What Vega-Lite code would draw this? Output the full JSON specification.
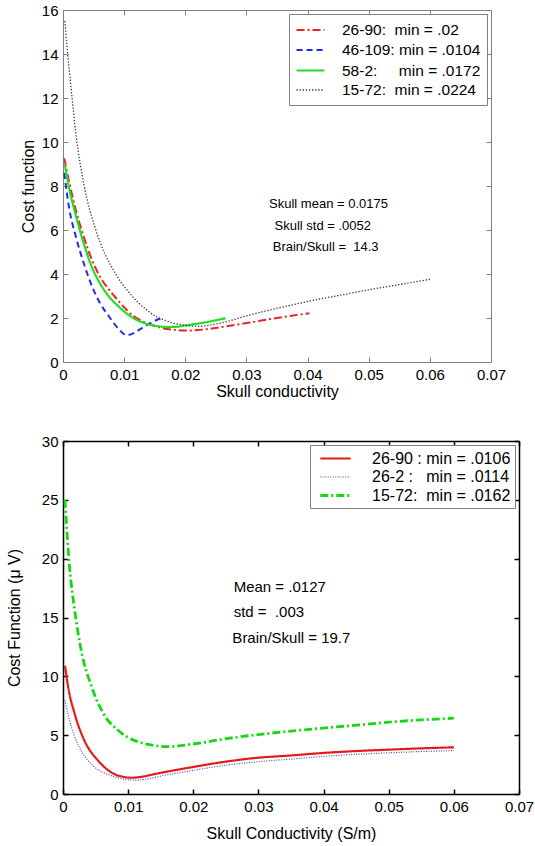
{
  "$schema": "https://vega.github.io/schema/vega-lite/v6.json",
  "background": "white",
  "padding": {"left": 6, "top": 3, "right": 0, "bottom": 5},
  "spacing": 35,
  "config": {
    "font": "Liberation Sans",
    "view": {"stroke": null},
    "axis": {"grid": false, "labelFont": "Liberation Sans", "titleFont": "Liberation Sans", "labelColor": "black", "titleColor": "black", "titleFontWeight": "normal", "tickSize": -5, "labelPadding": 10},
    "legend": {"labelFont": "Liberation Sans"}
  },
  "resolve": {"scale": {"color": "independent", "strokeDash": "independent", "strokeWidth": "independent", "x": "independent", "y": "independent"}},
  "vconcat": [
    {
      "width": 428,
      "height": 352,
      "layer": [
        {
          "data": {"values": [
            {"series": "26-90:\u00a0 min = .02\u00a0\u00a0", "x": 0.0002, "y": 9.26},
            {"series": "26-90:\u00a0 min = .02\u00a0\u00a0", "x": 0.001, "y": 8.2},
            {"series": "26-90:\u00a0 min = .02\u00a0\u00a0", "x": 0.0021, "y": 6.9},
            {"series": "26-90:\u00a0 min = .02\u00a0\u00a0", "x": 0.0035, "y": 5.6},
            {"series": "26-90:\u00a0 min = .02\u00a0\u00a0", "x": 0.0048, "y": 4.6},
            {"series": "26-90:\u00a0 min = .02\u00a0\u00a0", "x": 0.006, "y": 3.9},
            {"series": "26-90:\u00a0 min = .02\u00a0\u00a0", "x": 0.0075, "y": 3.3},
            {"series": "26-90:\u00a0 min = .02\u00a0\u00a0", "x": 0.009, "y": 2.8},
            {"series": "26-90:\u00a0 min = .02\u00a0\u00a0", "x": 0.0103, "y": 2.4},
            {"series": "26-90:\u00a0 min = .02\u00a0\u00a0", "x": 0.0115, "y": 2.1},
            {"series": "26-90:\u00a0 min = .02\u00a0\u00a0", "x": 0.013, "y": 1.85},
            {"series": "26-90:\u00a0 min = .02\u00a0\u00a0", "x": 0.0145, "y": 1.68},
            {"series": "26-90:\u00a0 min = .02\u00a0\u00a0", "x": 0.0157, "y": 1.58},
            {"series": "26-90:\u00a0 min = .02\u00a0\u00a0", "x": 0.018, "y": 1.47},
            {"series": "26-90:\u00a0 min = .02\u00a0\u00a0", "x": 0.02, "y": 1.43},
            {"series": "26-90:\u00a0 min = .02\u00a0\u00a0", "x": 0.022, "y": 1.45},
            {"series": "26-90:\u00a0 min = .02\u00a0\u00a0", "x": 0.025, "y": 1.55},
            {"series": "26-90:\u00a0 min = .02\u00a0\u00a0", "x": 0.03, "y": 1.77},
            {"series": "26-90:\u00a0 min = .02\u00a0\u00a0", "x": 0.035, "y": 2.0},
            {"series": "26-90:\u00a0 min = .02\u00a0\u00a0", "x": 0.0403, "y": 2.22},
            {"series": "46-109: min = .0104\u00a0\u00a0", "x": 0.0002, "y": 8.6},
            {"series": "46-109: min = .0104\u00a0\u00a0", "x": 0.001, "y": 7.0},
            {"series": "46-109: min = .0104\u00a0\u00a0", "x": 0.0021, "y": 5.7},
            {"series": "46-109: min = .0104\u00a0\u00a0", "x": 0.0035, "y": 4.4},
            {"series": "46-109: min = .0104\u00a0\u00a0", "x": 0.0048, "y": 3.4},
            {"series": "46-109: min = .0104\u00a0\u00a0", "x": 0.006, "y": 2.7},
            {"series": "46-109: min = .0104\u00a0\u00a0", "x": 0.0075, "y": 2.08},
            {"series": "46-109: min = .0104\u00a0\u00a0", "x": 0.0092, "y": 1.47},
            {"series": "46-109: min = .0104\u00a0\u00a0", "x": 0.0104, "y": 1.22},
            {"series": "46-109: min = .0104\u00a0\u00a0", "x": 0.0115, "y": 1.3},
            {"series": "46-109: min = .0104\u00a0\u00a0", "x": 0.0125, "y": 1.47},
            {"series": "46-109: min = .0104\u00a0\u00a0", "x": 0.0141, "y": 1.74},
            {"series": "46-109: min = .0104\u00a0\u00a0", "x": 0.016, "y": 2.0},
            {"series": "58-2:\u00a0\u00a0\u00a0\u00a0 min = .0172\u00a0\u00a0", "x": 0.0003, "y": 8.96},
            {"series": "58-2:\u00a0\u00a0\u00a0\u00a0 min = .0172\u00a0\u00a0", "x": 0.001, "y": 7.9},
            {"series": "58-2:\u00a0\u00a0\u00a0\u00a0 min = .0172\u00a0\u00a0", "x": 0.0021, "y": 6.66},
            {"series": "58-2:\u00a0\u00a0\u00a0\u00a0 min = .0172\u00a0\u00a0", "x": 0.0035, "y": 5.3},
            {"series": "58-2:\u00a0\u00a0\u00a0\u00a0 min = .0172\u00a0\u00a0", "x": 0.0048, "y": 4.26},
            {"series": "58-2:\u00a0\u00a0\u00a0\u00a0 min = .0172\u00a0\u00a0", "x": 0.006, "y": 3.6},
            {"series": "58-2:\u00a0\u00a0\u00a0\u00a0 min = .0172\u00a0\u00a0", "x": 0.0075, "y": 2.98},
            {"series": "58-2:\u00a0\u00a0\u00a0\u00a0 min = .0172\u00a0\u00a0", "x": 0.009, "y": 2.55},
            {"series": "58-2:\u00a0\u00a0\u00a0\u00a0 min = .0172\u00a0\u00a0", "x": 0.0103, "y": 2.23},
            {"series": "58-2:\u00a0\u00a0\u00a0\u00a0 min = .0172\u00a0\u00a0", "x": 0.0115, "y": 2.0},
            {"series": "58-2:\u00a0\u00a0\u00a0\u00a0 min = .0172\u00a0\u00a0", "x": 0.013, "y": 1.8},
            {"series": "58-2:\u00a0\u00a0\u00a0\u00a0 min = .0172\u00a0\u00a0", "x": 0.0145, "y": 1.68},
            {"series": "58-2:\u00a0\u00a0\u00a0\u00a0 min = .0172\u00a0\u00a0", "x": 0.0157, "y": 1.62},
            {"series": "58-2:\u00a0\u00a0\u00a0\u00a0 min = .0172\u00a0\u00a0", "x": 0.0172, "y": 1.59},
            {"series": "58-2:\u00a0\u00a0\u00a0\u00a0 min = .0172\u00a0\u00a0", "x": 0.0185, "y": 1.6},
            {"series": "58-2:\u00a0\u00a0\u00a0\u00a0 min = .0172\u00a0\u00a0", "x": 0.02, "y": 1.66},
            {"series": "58-2:\u00a0\u00a0\u00a0\u00a0 min = .0172\u00a0\u00a0", "x": 0.023, "y": 1.79},
            {"series": "58-2:\u00a0\u00a0\u00a0\u00a0 min = .0172\u00a0\u00a0", "x": 0.0266, "y": 1.99},
            {"series": "15-72:\u00a0 min = .0224\u00a0\u00a0", "x": 0.0003, "y": 15.5},
            {"series": "15-72:\u00a0 min = .0224\u00a0\u00a0", "x": 0.0007, "y": 14.2},
            {"series": "15-72:\u00a0 min = .0224\u00a0\u00a0", "x": 0.0013, "y": 12.5},
            {"series": "15-72:\u00a0 min = .0224\u00a0\u00a0", "x": 0.0021, "y": 10.4},
            {"series": "15-72:\u00a0 min = .0224\u00a0\u00a0", "x": 0.0035, "y": 7.96},
            {"series": "15-72:\u00a0 min = .0224\u00a0\u00a0", "x": 0.0052, "y": 6.15},
            {"series": "15-72:\u00a0 min = .0224\u00a0\u00a0", "x": 0.0068, "y": 4.94},
            {"series": "15-72:\u00a0 min = .0224\u00a0\u00a0", "x": 0.0082, "y": 4.2},
            {"series": "15-72:\u00a0 min = .0224\u00a0\u00a0", "x": 0.0096, "y": 3.58},
            {"series": "15-72:\u00a0 min = .0224\u00a0\u00a0", "x": 0.011, "y": 3.1},
            {"series": "15-72:\u00a0 min = .0224\u00a0\u00a0", "x": 0.0124, "y": 2.67},
            {"series": "15-72:\u00a0 min = .0224\u00a0\u00a0", "x": 0.0138, "y": 2.35},
            {"series": "15-72:\u00a0 min = .0224\u00a0\u00a0", "x": 0.0152, "y": 2.07},
            {"series": "15-72:\u00a0 min = .0224\u00a0\u00a0", "x": 0.0166, "y": 1.9},
            {"series": "15-72:\u00a0 min = .0224\u00a0\u00a0", "x": 0.018, "y": 1.77},
            {"series": "15-72:\u00a0 min = .0224\u00a0\u00a0", "x": 0.0202, "y": 1.66},
            {"series": "15-72:\u00a0 min = .0224\u00a0\u00a0", "x": 0.0224, "y": 1.62},
            {"series": "15-72:\u00a0 min = .0224\u00a0\u00a0", "x": 0.0245, "y": 1.7},
            {"series": "15-72:\u00a0 min = .0224\u00a0\u00a0", "x": 0.027, "y": 1.85},
            {"series": "15-72:\u00a0 min = .0224\u00a0\u00a0", "x": 0.0294, "y": 2.05},
            {"series": "15-72:\u00a0 min = .0224\u00a0\u00a0", "x": 0.0336, "y": 2.35},
            {"series": "15-72:\u00a0 min = .0224\u00a0\u00a0", "x": 0.0376, "y": 2.6},
            {"series": "15-72:\u00a0 min = .0224\u00a0\u00a0", "x": 0.04, "y": 2.75},
            {"series": "15-72:\u00a0 min = .0224\u00a0\u00a0", "x": 0.045, "y": 3.02},
            {"series": "15-72:\u00a0 min = .0224\u00a0\u00a0", "x": 0.05, "y": 3.28},
            {"series": "15-72:\u00a0 min = .0224\u00a0\u00a0", "x": 0.055, "y": 3.52},
            {"series": "15-72:\u00a0 min = .0224\u00a0\u00a0", "x": 0.06, "y": 3.76}
          ]},
          "mark": {"type": "line", "interpolate": "monotone"},
          "encoding": {
            "x": {"field": "x", "type": "quantitative", "scale": {"domain": [0, 0.07], "nice": false},
              "axis": {"orient": "bottom", "values": [0, 0.01, 0.02, 0.03, 0.04, 0.05, 0.06, 0.07], "format": ".2~f", "title": "Skull conductivity", "labelFontSize": 15, "titleFontSize": 16, "domainColor": "#808080", "tickColor": "#808080", "titlePadding": 1, "labelFlush": false}},
            "y": {"field": "y", "type": "quantitative", "scale": {"domain": [0, 16], "nice": false},
              "axis": {"orient": "left", "values": [0, 2, 4, 6, 8, 10, 12, 14, 16], "title": "Cost function", "labelFontSize": 15, "titleFontSize": 16, "domainColor": "#808080", "tickColor": "#808080", "titlePadding": 5}},
            "color": {"field": "series", "type": "nominal",
              "scale": {"domain": ["26-90:\u00a0 min = .02\u00a0\u00a0", "46-109: min = .0104\u00a0\u00a0", "58-2:\u00a0\u00a0\u00a0\u00a0 min = .0172\u00a0\u00a0", "15-72:\u00a0 min = .0224\u00a0\u00a0"], "range": ["#ee2222", "#1c2ee0", "#22dd22", "#333333"]},
              "legend": {"title": null, "orient": "top-right", "offset": 4, "strokeColor": "#808080", "fillColor": "white", "padding": 6, "labelFontSize": 15.5, "symbolType": "M-1.55,0H1.55", "symbolSize": 324, "symbolOffset": 5, "symbolStrokeWidth": 1.8, "rowPadding": 1, "labelOffset": 21}},
            "strokeDash": {"field": "series", "type": "nominal",
              "scale": {"domain": ["26-90:\u00a0 min = .02\u00a0\u00a0", "46-109: min = .0104\u00a0\u00a0", "58-2:\u00a0\u00a0\u00a0\u00a0 min = .0172\u00a0\u00a0", "15-72:\u00a0 min = .0224\u00a0\u00a0"], "range": [[8, 3, 2, 3], [6, 4], [1, 0], [1.3, 1.8]]},
              "legend": {"title": null, "orient": "top-right", "offset": 4, "strokeColor": "#808080", "fillColor": "white", "padding": 6, "labelFontSize": 15.5, "symbolType": "M-1.55,0H1.55", "symbolSize": 324, "symbolOffset": 5, "symbolStrokeWidth": 1.8, "rowPadding": 1, "labelOffset": 21}},
            "strokeWidth": {"field": "series", "type": "nominal",
              "scale": {"type": "ordinal", "domain": ["26-90:\u00a0 min = .02\u00a0\u00a0", "46-109: min = .0104\u00a0\u00a0", "58-2:\u00a0\u00a0\u00a0\u00a0 min = .0172\u00a0\u00a0", "15-72:\u00a0 min = .0224\u00a0\u00a0"], "range": [2, 2, 2.2, 1.3]},
              "legend": null}
          }
        },
        {
          "data": {"values": [
            {"x": 0.0337, "y": 7.2, "label": "Skull mean = 0.0175"},
            {"x": 0.0346, "y": 6.2, "label": "Skull std = .0052"},
            {"x": 0.0343, "y": 5.24, "label": "Brain/Skull =\u00a0 14.3"}
          ]},
          "mark": {"type": "text", "align": "left", "baseline": "middle", "fontSize": 13, "font": "Liberation Sans", "color": "black"},
          "encoding": {
            "x": {"field": "x", "type": "quantitative", "axis": {"orient": "top", "labels": false, "title": null, "values": [0, 0.01, 0.02, 0.03, 0.04, 0.05, 0.06, 0.07], "domainColor": "#808080", "tickColor": "#808080"}},
            "y": {"field": "y", "type": "quantitative", "axis": {"orient": "right", "labels": false, "title": null, "values": [0, 2, 4, 6, 8, 10, 12, 14, 16], "domainColor": "#808080", "tickColor": "#808080"}},
            "text": {"field": "label"}
          }
        }
      ],
      "resolve": {"axis": {"x": "independent", "y": "independent"}}
    },
    {
      "width": 456,
      "height": 353,
      "layer": [
        {
          "data": {"values": [
            {"series": "26-90 : min = .0106\u00a0\u00a0", "x": 0.0003, "y": 10.9},
            {"series": "26-90 : min = .0106\u00a0\u00a0", "x": 0.0008, "y": 9.07},
            {"series": "26-90 : min = .0106\u00a0\u00a0", "x": 0.0018, "y": 6.8},
            {"series": "26-90 : min = .0106\u00a0\u00a0", "x": 0.0033, "y": 4.53},
            {"series": "26-90 : min = .0106\u00a0\u00a0", "x": 0.0054, "y": 2.83},
            {"series": "26-90 : min = .0106\u00a0\u00a0", "x": 0.0074, "y": 1.84},
            {"series": "26-90 : min = .0106\u00a0\u00a0", "x": 0.0097, "y": 1.42},
            {"series": "26-90 : min = .0106\u00a0\u00a0", "x": 0.0106, "y": 1.38},
            {"series": "26-90 : min = .0106\u00a0\u00a0", "x": 0.0118, "y": 1.44},
            {"series": "26-90 : min = .0106\u00a0\u00a0", "x": 0.0141, "y": 1.7},
            {"series": "26-90 : min = .0106\u00a0\u00a0", "x": 0.0197, "y": 2.27},
            {"series": "26-90 : min = .0106\u00a0\u00a0", "x": 0.025, "y": 2.75},
            {"series": "26-90 : min = .0106\u00a0\u00a0", "x": 0.0295, "y": 3.06},
            {"series": "26-90 : min = .0106\u00a0\u00a0", "x": 0.0346, "y": 3.26},
            {"series": "26-90 : min = .0106\u00a0\u00a0", "x": 0.04, "y": 3.49},
            {"series": "26-90 : min = .0106\u00a0\u00a0", "x": 0.045, "y": 3.65},
            {"series": "26-90 : min = .0106\u00a0\u00a0", "x": 0.05, "y": 3.77},
            {"series": "26-90 : min = .0106\u00a0\u00a0", "x": 0.055, "y": 3.88},
            {"series": "26-90 : min = .0106\u00a0\u00a0", "x": 0.06, "y": 3.97},
            {"series": "26-2 :\u00a0\u00a0 min = .0114\u00a0\u00a0", "x": 0.0003, "y": 7.93},
            {"series": "26-2 :\u00a0\u00a0 min = .0114\u00a0\u00a0", "x": 0.0013, "y": 5.67},
            {"series": "26-2 :\u00a0\u00a0 min = .0114\u00a0\u00a0", "x": 0.0028, "y": 3.68},
            {"series": "26-2 :\u00a0\u00a0 min = .0114\u00a0\u00a0", "x": 0.0049, "y": 2.27},
            {"series": "26-2 :\u00a0\u00a0 min = .0114\u00a0\u00a0", "x": 0.0074, "y": 1.56},
            {"series": "26-2 :\u00a0\u00a0 min = .0114\u00a0\u00a0", "x": 0.01, "y": 1.22},
            {"series": "26-2 :\u00a0\u00a0 min = .0114\u00a0\u00a0", "x": 0.0114, "y": 1.18},
            {"series": "26-2 :\u00a0\u00a0 min = .0114\u00a0\u00a0", "x": 0.0128, "y": 1.27},
            {"series": "26-2 :\u00a0\u00a0 min = .0114\u00a0\u00a0", "x": 0.0155, "y": 1.58},
            {"series": "26-2 :\u00a0\u00a0 min = .0114\u00a0\u00a0", "x": 0.0197, "y": 1.98},
            {"series": "26-2 :\u00a0\u00a0 min = .0114\u00a0\u00a0", "x": 0.025, "y": 2.45},
            {"series": "26-2 :\u00a0\u00a0 min = .0114\u00a0\u00a0", "x": 0.03, "y": 2.75},
            {"series": "26-2 :\u00a0\u00a0 min = .0114\u00a0\u00a0", "x": 0.0346, "y": 2.95},
            {"series": "26-2 :\u00a0\u00a0 min = .0114\u00a0\u00a0", "x": 0.04, "y": 3.2},
            {"series": "26-2 :\u00a0\u00a0 min = .0114\u00a0\u00a0", "x": 0.045, "y": 3.37},
            {"series": "26-2 :\u00a0\u00a0 min = .0114\u00a0\u00a0", "x": 0.05, "y": 3.5},
            {"series": "26-2 :\u00a0\u00a0 min = .0114\u00a0\u00a0", "x": 0.055, "y": 3.61},
            {"series": "26-2 :\u00a0\u00a0 min = .0114\u00a0\u00a0", "x": 0.06, "y": 3.69},
            {"series": "15-72:\u00a0 min = .0162\u00a0\u00a0", "x": 0.0003, "y": 25.0},
            {"series": "15-72:\u00a0 min = .0162\u00a0\u00a0", "x": 0.001, "y": 19.3},
            {"series": "15-72:\u00a0 min = .0162\u00a0\u00a0", "x": 0.0018, "y": 15.6},
            {"series": "15-72:\u00a0 min = .0162\u00a0\u00a0", "x": 0.0028, "y": 12.2},
            {"series": "15-72:\u00a0 min = .0162\u00a0\u00a0", "x": 0.0044, "y": 9.1},
            {"series": "15-72:\u00a0 min = .0162\u00a0\u00a0", "x": 0.0064, "y": 6.66},
            {"series": "15-72:\u00a0 min = .0162\u00a0\u00a0", "x": 0.0085, "y": 5.4},
            {"series": "15-72:\u00a0 min = .0162\u00a0\u00a0", "x": 0.0115, "y": 4.44},
            {"series": "15-72:\u00a0 min = .0162\u00a0\u00a0", "x": 0.0162, "y": 4.03},
            {"series": "15-72:\u00a0 min = .0162\u00a0\u00a0", "x": 0.02, "y": 4.25},
            {"series": "15-72:\u00a0 min = .0162\u00a0\u00a0", "x": 0.025, "y": 4.7},
            {"series": "15-72:\u00a0 min = .0162\u00a0\u00a0", "x": 0.03, "y": 5.05},
            {"series": "15-72:\u00a0 min = .0162\u00a0\u00a0", "x": 0.035, "y": 5.35},
            {"series": "15-72:\u00a0 min = .0162\u00a0\u00a0", "x": 0.04, "y": 5.6},
            {"series": "15-72:\u00a0 min = .0162\u00a0\u00a0", "x": 0.045, "y": 5.85},
            {"series": "15-72:\u00a0 min = .0162\u00a0\u00a0", "x": 0.05, "y": 6.1},
            {"series": "15-72:\u00a0 min = .0162\u00a0\u00a0", "x": 0.055, "y": 6.3},
            {"series": "15-72:\u00a0 min = .0162\u00a0\u00a0", "x": 0.06, "y": 6.44}
          ]},
          "mark": {"type": "line", "interpolate": "monotone"},
          "encoding": {
            "x": {"field": "x", "type": "quantitative", "scale": {"domain": [0, 0.07], "nice": false},
              "axis": {"orient": "bottom", "values": [0, 0.01, 0.02, 0.03, 0.04, 0.05, 0.06, 0.07], "format": ".2~f", "title": "Skull Conductivity (S/m)", "labelFontSize": 15, "titleFontSize": 16, "domainColor": "black", "tickColor": "black", "domainWidth": 1.5, "tickWidth": 1.5, "titlePadding": 11, "labelFlush": false}},
            "y": {"field": "y", "type": "quantitative", "scale": {"domain": [0, 30], "nice": false},
              "axis": {"orient": "left", "values": [0, 5, 10, 15, 20, 25, 30], "title": "Cost Function (\u03bc V)", "labelFontSize": 15, "titleFontSize": 16, "domainColor": "black", "tickColor": "black", "domainWidth": 1.5, "tickWidth": 1.5, "titlePadding": 19}},
            "color": {"field": "series", "type": "nominal",
              "scale": {"domain": ["26-90 : min = .0106\u00a0\u00a0", "26-2 :\u00a0\u00a0 min = .0114\u00a0\u00a0", "15-72:\u00a0 min = .0162\u00a0\u00a0"], "range": ["#e51b1b", "#4a4ab8", "#14d814"]},
              "legend": {"title": null, "orient": "top-right", "offset": 4, "strokeColor": "#808080", "fillColor": "white", "padding": 4, "labelFontSize": 16, "symbolType": "M-1.9,0H1.9", "symbolSize": 256, "symbolOffset": 12, "symbolStrokeWidth": 1.8, "rowPadding": 1, "labelOffset": 27}},
            "strokeDash": {"field": "series", "type": "nominal",
              "scale": {"domain": ["26-90 : min = .0106\u00a0\u00a0", "26-2 :\u00a0\u00a0 min = .0114\u00a0\u00a0", "15-72:\u00a0 min = .0162\u00a0\u00a0"], "range": [[1, 0], [1, 1.5], [8, 3, 2, 3]]},
              "legend": {"title": null, "orient": "top-right", "offset": 4, "strokeColor": "#808080", "fillColor": "white", "padding": 4, "labelFontSize": 16, "symbolType": "M-1.9,0H1.9", "symbolSize": 256, "symbolOffset": 12, "symbolStrokeWidth": 1.8, "rowPadding": 1, "labelOffset": 27}},
            "strokeWidth": {"field": "series", "type": "nominal",
              "scale": {"type": "ordinal", "domain": ["26-90 : min = .0106\u00a0\u00a0", "26-2 :\u00a0\u00a0 min = .0114\u00a0\u00a0", "15-72:\u00a0 min = .0162\u00a0\u00a0"], "range": [2.2, 1.2, 2.8]},
              "legend": null}
          }
        },
        {
          "data": {"values": [
            {"x": 0.0262, "y": 17.6, "label": "Mean = .0127"},
            {"x": 0.0262, "y": 15.5, "label": "std =\u00a0 .003"},
            {"x": 0.026, "y": 13.3, "label": "Brain/Skull = 19.7"}
          ]},
          "mark": {"type": "text", "align": "left", "baseline": "middle", "fontSize": 15, "font": "Liberation Sans", "color": "black"},
          "encoding": {
            "x": {"field": "x", "type": "quantitative", "axis": {"orient": "top", "labels": false, "title": null, "values": [0, 0.01, 0.02, 0.03, 0.04, 0.05, 0.06, 0.07], "domainColor": "black", "tickColor": "black", "domainWidth": 1.5, "tickWidth": 1.5}},
            "y": {"field": "y", "type": "quantitative", "axis": {"orient": "right", "labels": false, "title": null, "values": [0, 5, 10, 15, 20, 25, 30], "domainColor": "black", "tickColor": "black", "domainWidth": 1.5, "tickWidth": 1.5}},
            "text": {"field": "label"}
          }
        }
      ],
      "resolve": {"axis": {"x": "independent", "y": "independent"}}
    }
  ]
}
